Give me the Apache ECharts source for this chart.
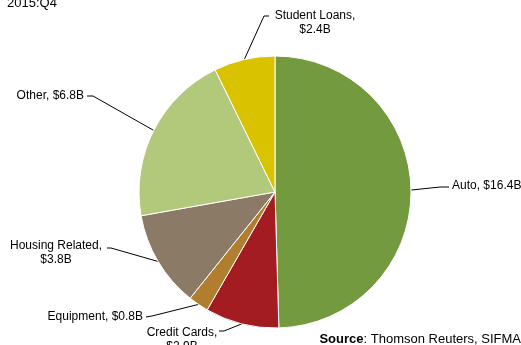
<!DOCTYPE html>
<html>
<head>
<meta charset="utf-8">
<script src="https://cdn.jsdelivr.net/npm/echarts@6/dist/echarts.min.js"></script>
<style>
  html, body { margin: 0; padding: 0; background: #fff; }
  #chart { width: 521px; height: 345px; }
</style>
</head>
<body>
<div id="chart"></div>
<script>
// Outstanding ABS issuance by collateral type, 2015:Q4 ($ billions)
const categories = ['Auto', 'Credit Cards', 'Equipment', 'Housing Related', 'Other', 'Student Loans'];
const values = [16.4, 2.9, 0.8, 3.8, 6.8, 2.4];
const labelTexts = ['Auto, $16.4B', 'Credit Cards,\n$2.9B', 'Equipment, $0.8B', 'Housing Related,\n$3.8B', 'Other, $6.8B', 'Student Loans,\n$2.4B'];
const colors = ['#739a3e', '#a21c22', '#b07e2e', '#8b7b66', '#b2c87a', '#d9c300'];

const CX = 275, CY = 192, R = 136;

// Label placement: text anchor + line elbow/end points
const placement = [
  { x: 452, y: 186, align: 'left',   va: 'middle', elbow: [440, 187], end: [449, 187] },
  { x: 182, y: 326, align: 'center', va: 'top',    elbow: [224, 331], end: [219, 331] },
  { x: 143, y: 317, align: 'right',  va: 'middle', elbow: [152, 316], end: [146, 317] },
  { x: 56,  y: 239, align: 'center', va: 'top',    elbow: [111, 248], end: [107, 248] },
  { x: 84,  y: 96,  align: 'right',  va: 'middle', elbow: [93, 96],   end: [87, 96] },
  { x: 315, y: 9,   align: 'center', va: 'top',    elbow: [264, 16],  end: [269, 16] }
];

const total = values.reduce((a, b) => a + b, 0);
// Mid-angle edge point of each slice (clockwise from 12 o'clock)
function edgePoint(i) {
  let before = 0;
  for (let k = 0; k < i; k++) before += values[k];
  const mid = (before + values[i] / 2) / total * Math.PI * 2;
  return [CX + R * Math.sin(mid), CY - R * Math.cos(mid)];
}

const chart = echarts.init(document.getElementById('chart'), null, { renderer: 'canvas' });
chart.setOption({
  animation: false,
  backgroundColor: '#fff',
  title: [
    {
      text: '2015:Q4', left: 7, top: -3, padding: 0,
      textStyle: { fontFamily: 'Liberation Sans', fontSize: 13, fontWeight: 'normal', color: '#000' }
    },
    {
      text: '{b|Source}: Thomson Reuters, SIFMA', right: 0, top: 333, padding: 0,
      textStyle: {
        fontFamily: 'Liberation Sans', fontSize: 13, fontWeight: 'normal', color: '#000',
        rich: { b: { fontFamily: 'Liberation Sans', fontSize: 13, fontWeight: 'bold', color: '#000' } }
      }
    }
  ],
  series: [{
    type: 'pie',
    center: [CX, CY],
    radius: R,
    startAngle: 90,
    clockwise: true,
    data: categories.map((c, i) => ({ name: c, value: values[i], itemStyle: { color: colors[i] } })),
    itemStyle: { borderColor: '#fff', borderWidth: 1 },
    label: {
      show: true,
      position: 'outside',
      formatter: p => labelTexts[p.dataIndex],
      fontFamily: 'Liberation Sans',
      fontSize: 12,
      lineHeight: 14,
      color: '#000'
    },
    labelLine: { show: true, length: 10, length2: 10, lineStyle: { color: '#000', width: 1 } },
    emphasis: { disabled: true },
    labelLayout: function (params) {
      const i = params.dataIndex;
      const p = placement[i];
      return {
        x: p.x, y: p.y, align: p.align, verticalAlign: p.va,
        labelLinePoints: [edgePoint(i), p.elbow, p.end]
      };
    }
  }]
});
</script>
</body>
</html>
